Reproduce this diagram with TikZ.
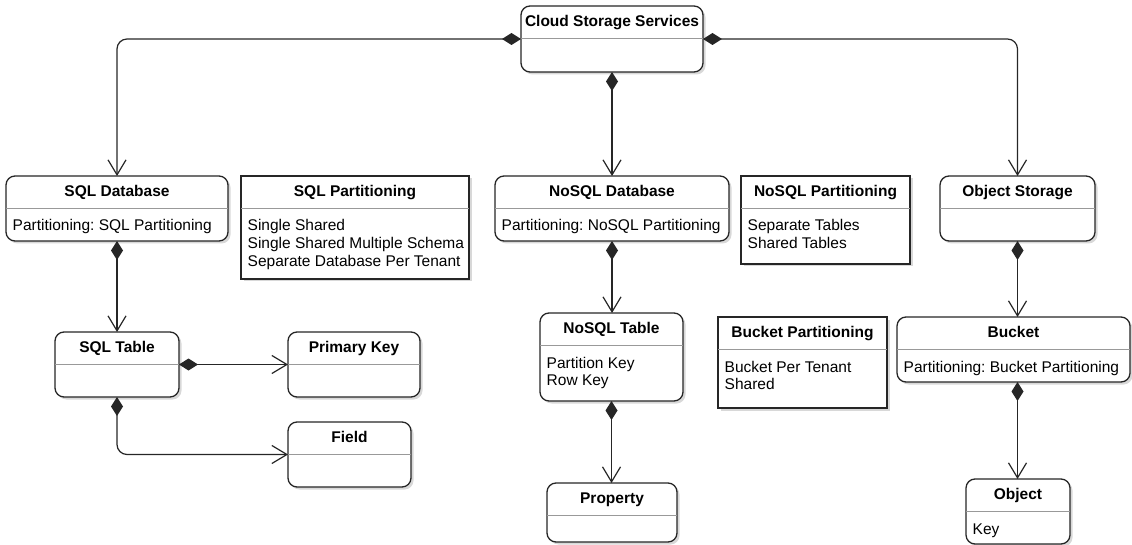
\documentclass[tikz,border=0pt]{standalone}
\usepackage{fontspec}
\setmainfont{Liberation Sans}
\usetikzlibrary{arrows.meta,shadows}
\frenchspacing

\tikzset{
  box/.style={draw=black!85, line width=1.3pt, fill=white, inner sep=0pt, outer sep=0pt,
    drop shadow={shadow xshift=2.5pt, shadow yshift=-2.5pt, fill=black!30, opacity=0.5}},
  classbox/.style={box, rounded corners=9pt},
  listbox/.style={box, sharp corners},
  divline/.style={draw=black!40, line width=0.8pt},
  ttl/.style={inner sep=0pt, anchor=base, font=\fontsize{15.5}{18}\selectfont\bfseries},
  attr/.style={inner sep=0pt, anchor=base west, font=\fontsize{15.5}{18}\selectfont},
  comp/.style={draw=black!85, line width=1.2pt, rounded corners=10pt,
    {Diamond[length=19pt,width=12pt]}-{Straight Barb[length=15pt,width=18pt]}},
}

% box with a header compartment: style, name, x1, y1, x2, y2, title
\newcommand\umlclass[7]{%
  \node[#1, minimum width={(#5-#3)*1pt}, minimum height={(#6-#4)*1pt}, anchor=north west] (#2) at (#3,#4) {};
  \draw[divline] ([yshift=-32.5pt]#2.north west) -- ([yshift=-32.5pt]#2.north east);
  \node[ttl] (#2-title) at ([yshift=-20.5pt]#2.north) {#7};
}
% text lines of the body compartment: name, comma separated lines
\newcommand\umlattrs[2]{%
  \foreach \txt [count=\ii] in {#2} {
    \node[attr] (#1-attr\ii) at ([xshift=6.5pt, yshift={-(55+(\ii-1)*17.7)*1pt}]#1.north west) {\txt};
  }
}

\begin{document}
\begin{tikzpicture}[x=1pt, y=-1pt]
\useasboundingbox (0,0) rectangle (1132,545);

\umlclass{classbox}{cloud}{521}{6}{703}{72}{Cloud Storage Services}

\umlclass{classbox}{sqldb}{6}{176}{228}{241}{SQL Database}
\umlattrs{sqldb}{Partitioning: SQL Partitioning}

\umlclass{listbox}{sqlpart}{241}{176}{469}{279}{SQL Partitioning}
\umlattrs{sqlpart}{Single Shared,Single Shared Multiple Schema,Separate Database Per Tenant}

\umlclass{classbox}{nosqldb}{495}{176}{729}{241}{NoSQL Database}
\umlattrs{nosqldb}{Partitioning: NoSQL Partitioning}

\umlclass{listbox}{nosqlpart}{741}{176}{910}{264}{NoSQL Partitioning}
\umlattrs{nosqlpart}{Separate Tables,Shared Tables}

\umlclass{classbox}{objst}{940}{176}{1095}{241}{Object Storage}

\umlclass{classbox}{sqltable}{55}{332}{179}{397}{SQL Table}
\umlclass{classbox}{pk}{288}{332}{420}{397}{Primary Key}
\umlclass{classbox}{field}{288}{422}{411}{487}{Field}

\umlclass{classbox}{nosqltable}{540}{313}{683}{401}{NoSQL Table}
\umlattrs{nosqltable}{Partition Key,Row Key}

\umlclass{classbox}{property}{547}{483}{677}{542}{Property}

\umlclass{listbox}{bucketpart}{718}{317}{887}{408}{Bucket Partitioning}
\umlattrs{bucketpart}{Bucket Per Tenant,Shared}

\umlclass{classbox}{bucket}{897}{317}{1130}{382}{Bucket}
\umlattrs{bucket}{Partitioning: Bucket Partitioning}

\umlclass{classbox}{object}{966}{479}{1070}{544}{Object}
\umlattrs{object}{Key}

% composition links
\draw[comp] (cloud.west) -| (sqldb.north);
\draw[comp] (cloud.east) -| (objst.north);
\draw[comp] (cloud.south) -- (cloud.south |- nosqldb.north);
\draw[comp] (sqldb.south) -- (sqldb.south |- sqltable.north);
\draw[comp] (sqltable.east) -- (pk.west);
\draw[comp] (sqltable.south) |- (field.west);
\draw[comp] (nosqldb.south) -- (nosqldb.south |- nosqltable.north);
\draw[comp] (nosqltable.south) -- (nosqltable.south |- property.north);
\draw[comp] (objst.south) -- (objst.south |- bucket.north);
\draw[comp] (objst.south |- bucket.south) -- (objst.south |- object.north);
\end{tikzpicture}
\end{document}
